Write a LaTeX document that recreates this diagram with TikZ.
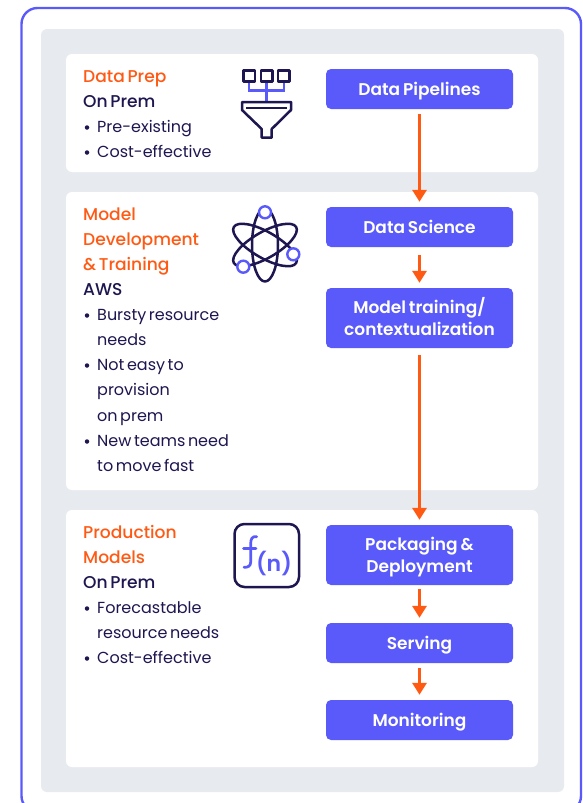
\documentclass[tikz,border=0pt]{standalone}
\usepackage{fontspec}
\setmainfont[WordSpace=0.6]{Poppins}
\newfontfamily\medfont[WordSpace=0.6]{Poppins Medium}
\newfontfamily\semifont[WordSpace=0.7]{Poppins SemiBold}
\usetikzlibrary{arrows.meta}
\definecolor{brand}{HTML}{5A5AFB}
\definecolor{orng}{HTML}{FF5A14}
\definecolor{navy}{HTML}{1D1650}
\definecolor{panel}{HTML}{E7EBEF}
\newcommand{\boxline}[1]{\raisebox{-1.5pt}[13pt][4pt]{#1}}
\tikzset{
  x=1pt,y=-1pt,
  card/.style={fill=white,rounded corners=6pt},
  stage/.style={fill=brand,rounded corners=5pt,draw=none,text=white,align=center,font=\fontsize{17}{22}\selectfont\semifont,minimum width=187pt,inner sep=0pt},
  flow/.style={draw=orng,line width=3pt,-{Triangle[length=12pt,width=14pt]},shorten >=5pt,shorten <=5pt},
  head/.style={anchor=base west,inner sep=0pt,text=orng,yshift=-0.9pt,font=\fontsize{17.1}{20}\selectfont\medfont},
  sub/.style={anchor=base west,inner sep=0pt,text=navy,yshift=-0.9pt,font=\fontsize{17.1}{20}\selectfont\medfont},
  item/.style={anchor=base west,inner sep=0pt,text=navy,yshift=-0.9pt,font=\fontsize{16}{20}\selectfont},
  dot/.style={fill=navy,circle,inner sep=0pt,minimum size=4.5pt},
  iconline/.style={draw=navy,line width=2.5pt,line join=round},
  iconblue/.style={draw=brand,line width=2.4pt},
}
\begin{document}
\begin{tikzpicture}
\useasboundingbox (0,0) rectangle (583,803);
\clip (0,0) rectangle (583,803);
\draw[brand,line width=2.4pt,rounded corners=16pt] (21.5,8) rectangle (581,812);
\fill[panel,rounded corners=6pt] (41,29) rectangle (564,792);
\fill[card] (66,54) rectangle (538,172);
\fill[card] (66,192) rectangle (538,490);
\fill[card] (66,510) rectangle (538,767);
% stages
\node[stage,minimum height=40pt] (pipe) at (419.5,89) {\boxline{Data Pipelines}};
\node[stage,minimum height=40pt] (sci) at (419.5,227) {\boxline{Data Science}};
\node[stage,minimum height=60pt] (train) at (419.5,318) {\boxline{Model training/}\\\boxline{contextualization}};
\node[stage,minimum height=60pt] (pack) at (419.5,555) {\boxline{Packaging \&}\\\boxline{Deployment}};
\node[stage,minimum height=40pt] (serve) at (419.5,643) {\boxline{Serving}};
\node[stage,minimum height=40pt] (mon) at (419.5,720) {\boxline{Monitoring}};
\draw[flow] (pipe) -- (sci);
\draw[flow,shorten <=8pt] (sci) -- (train);
\draw[flow,shorten <=7pt] (train) -- (pack);
\draw[flow,shorten <=4pt] (pack) -- (serve);
\draw[flow] (serve) -- (mon);
% card 1
\node[head] (t1) at (83,81.7) {Data Prep};
\node[sub] (t2) at (83,106.7) {On Prem};
\node[dot] (d1) at (87,127.5) {}; \node[item] (t3) at (97,131.7) {Pre-existing};
\node[dot] (d2) at (87,152.5) {}; \node[item] (t4) at (97,156.7) {Cost-effective};
% card 2
\node[head] (t5) at (83,219.7) {Model};
\node[head] (t6) at (83,244.7) {Development};
\node[head] (t7) at (83,269.7) {\& Training};
\node[sub] (t8) at (83,294.7) {AWS};
\node[dot] (d3) at (87,315.5) {}; \node[item] (t9) at (97,319.7) {Bursty resource};
\node[item] (t10) at (97,344.7) {needs};
\node[dot] (d4) at (87,365.5) {}; \node[item] (t11) at (97,369.7) {Not easy to};
\node[item] (t12) at (97,394.7) {provision};
\node[item] (t13) at (97,420.7) {on prem};
\node[dot] (d5) at (87,441.5) {}; \node[item] (t14) at (97,445.7) {New teams need};
\node[item] (t15) at (97,470.7) {to move fast};
% card 3
\node[head] (t16) at (83,537.7) {Production};
\node[head] (t17) at (83,562.7) {Models};
\node[sub] (t18) at (83,587.7) {On Prem};
\node[dot] (d6) at (87,608.5) {}; \node[item] (t19) at (97,612.7) {Forecastable};
\node[item] (t20) at (97,637.7) {resource needs};
\node[dot] (d7) at (87,658.5) {}; \node[item] (t21) at (97,662.7) {Cost-effective};
% funnel icon
\draw[iconblue] (249,82) -- (249,90.6) -- (284,90.6) -- (284,82);
\draw[iconblue] (266.5,82) -- (266.5,102);
\draw[iconline] (243.5,70.5) rectangle (254.8,81.5);
\draw[iconline] (261,70.5) rectangle (272.3,81.5);
\draw[iconline] (278,70.5) rectangle (289.5,81.5);
\draw[iconline] (242,102) -- (291,102) -- (291,110) -- (271.7,129) -- (271.7,137.7) -- (261.7,137.7) -- (261.7,129) -- (242,110) -- cycle;
\draw[iconline] (246,108) -- (287,108);
% atom icon
\draw[iconline] (265,245) ellipse [x radius=13pt,y radius=36.5pt];
\draw[iconline,rotate around={60:(265,245)}] (265,245) ellipse [x radius=13pt,y radius=36pt];
\draw[iconline,rotate around={-60:(265,245)}] (265,245) ellipse [x radius=13pt,y radius=36pt];
\draw[iconblue,fill=white] (265,212.3) circle (6pt);
\draw[iconblue,fill=white] (293.3,254.3) circle (6pt);
\draw[iconblue,fill=white] (243.3,266.7) circle (6pt);
% function icon
\draw[iconline,rounded corners=10pt] (234.5,524) rectangle (299,587);
\draw[iconblue,line width=2.7pt,line cap=round] (256.7,536.7) .. controls (252,536) and (250.7,539) .. (250.7,544) -- (250.7,562) .. controls (250.7,566) and (248,567.5) .. (244,567.3);
\draw[iconblue,line width=2.7pt,line cap=round] (243.5,548.3) -- (256,548.3);
\node[text=brand,inner sep=0pt,font=\fontsize{22}{24}\selectfont\semifont] (fn) at (274,563) {(n)};
\end{tikzpicture}
\end{document}
